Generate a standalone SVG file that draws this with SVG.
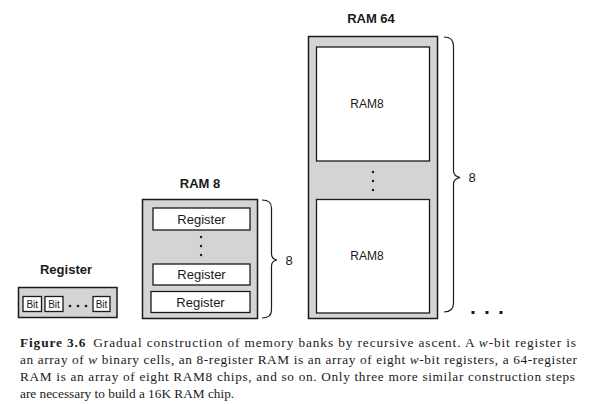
<svg xmlns="http://www.w3.org/2000/svg" width="590" height="405" viewBox="0 0 590 405">
<style>
.outer{fill:#d4d4d4;stroke:#1a1a1a;stroke-width:1.5}
.inner{fill:#fff;stroke:#1a1a1a;stroke-width:1.3}
.title{font-family:"Liberation Sans",Arial,sans-serif;font-weight:bold;font-size:13px;fill:#1a1a1a;text-anchor:middle}
.lbl{font-family:"Liberation Sans",Arial,sans-serif;font-size:13px;fill:#1a1a1a;text-anchor:middle}
.bit{font-family:"Liberation Sans",Arial,sans-serif;font-size:10px;fill:#1a1a1a;text-anchor:middle}
.dot{fill:#1a1a1a}
.brace{fill:none;stroke:#1a1a1a;stroke-width:1.2}
.cap{font-family:"Liberation Serif","Times New Roman",serif;font-size:13.3px;fill:#1a1a1a}
</style>
<rect width="590" height="405" fill="#fff"/>

<g id="register">
  <text class="title" x="66" y="274">Register</text>
  <rect class="outer" x="18.5" y="287.5" width="98.5" height="30"/>
  <rect class="inner" x="23" y="296.5" width="18.5" height="15"/>
  <text class="bit" x="32.3" y="307.5">Bit</text>
  <rect class="inner" x="45" y="296.5" width="18" height="15"/>
  <text class="bit" x="54" y="307.5">Bit</text>
  <circle class="dot" cx="70" cy="306" r="1.3"/>
  <circle class="dot" cx="78" cy="306" r="1.3"/>
  <circle class="dot" cx="86" cy="306" r="1.3"/>
  <rect class="inner" x="93" y="296.5" width="17" height="15"/>
  <text class="bit" x="101.5" y="307.5">Bit</text>
</g>

<g id="ram8">
  <text class="title" x="200" y="188">RAM 8</text>
  <rect class="outer" x="142.5" y="199.5" width="115" height="119"/>
  <rect class="inner" x="153" y="208" width="97" height="22"/>
  <text class="lbl" x="201.5" y="223.5">Register</text>
  <circle class="dot" cx="201" cy="237" r="1.2"/>
  <circle class="dot" cx="201" cy="246" r="1.2"/>
  <circle class="dot" cx="201" cy="255" r="1.2"/>
  <rect class="inner" x="153" y="264" width="97" height="21"/>
  <text class="lbl" x="201.5" y="279">Register</text>
  <rect class="inner" x="151" y="291.5" width="99" height="21"/>
  <text class="lbl" x="200.5" y="306.5">Register</text>
</g>

<g id="ram64">
  <text class="title" x="371" y="23">RAM 64</text>
  <rect class="outer" x="308.5" y="36.5" width="129" height="282"/>
  <rect class="inner" x="316.5" y="47" width="113" height="114"/>
  <text class="lbl" x="367" y="108" style="font-size:12px">RAM8</text>
  <circle class="dot" cx="373" cy="172" r="1.2"/>
  <circle class="dot" cx="373" cy="181" r="1.2"/>
  <circle class="dot" cx="373" cy="190" r="1.2"/>
  <rect class="inner" x="316.5" y="199.5" width="113" height="113.5"/>
  <text class="lbl" x="367" y="260" style="font-size:12px">RAM8</text>
</g>

<g id="connectors">
  <path class="brace" d="M262 200 Q271.5 200 271.5 208 L271.5 254 Q271.5 259 277 260 Q271.5 261 271.5 266 L271.5 310 Q271.5 318 262 318"/>
  <text class="lbl" x="289" y="265">8</text>
  <path class="brace" d="M444 37 Q453.5 37 453.5 46 L453.5 171 Q453.5 176 460 177.5 Q453.5 179 453.5 184 L453.5 303 Q453.5 312 444 312"/>
  <text class="lbl" x="472" y="182">8</text>
</g>

<g id="more">
  <rect class="dot" x="471.5" y="311" width="3" height="3"/>
  <rect class="dot" x="485.5" y="311" width="3" height="3"/>
  <rect class="dot" x="499.5" y="311" width="3" height="3"/>
</g>

<g id="caption">
  <text class="cap" x="20" y="347" textLength="556" lengthAdjust="spacing"><tspan font-weight="bold">Figure 3.6</tspan><tspan dx="7">Gradual construction of memory banks by recursive ascent. A </tspan><tspan font-style="italic">w</tspan>-bit register is</text>
  <text class="cap" x="20" y="364" textLength="557" lengthAdjust="spacing">an array of <tspan font-style="italic">w</tspan> binary cells, an 8-register RAM is an array of eight <tspan font-style="italic">w</tspan>-bit registers, a 64-register</text>
  <text class="cap" x="20" y="381" textLength="555" lengthAdjust="spacing">RAM is an array of eight RAM8 chips, and so on. Only three more similar construction steps</text>
  <text class="cap" x="20" y="398">are necessary to build a 16K RAM chip.</text>
</g>
</svg>
